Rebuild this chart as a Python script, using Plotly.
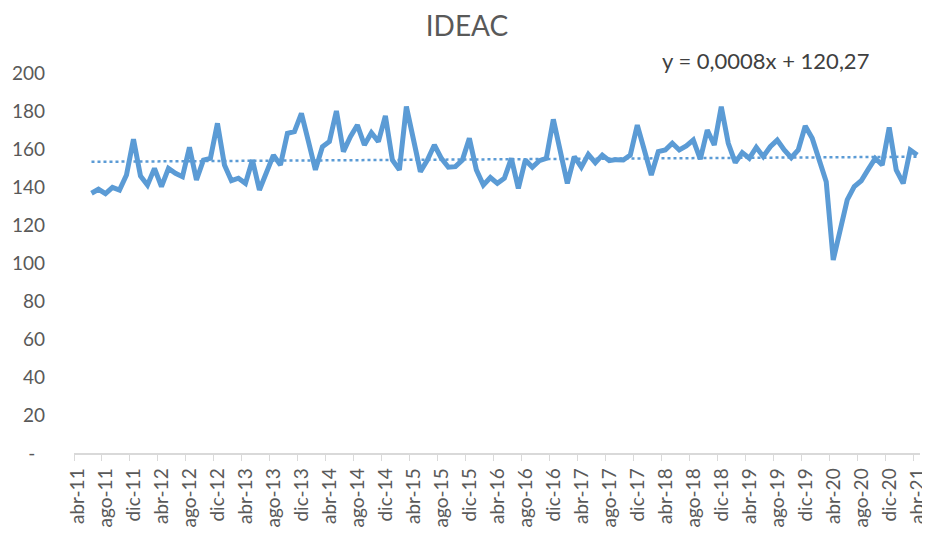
import numpy as np
import plotly.graph_objects as go

# Monthly IDEAC values, jun-11 .. abr-21
values = [
    136.7, 138.8, 136.5, 139.8, 138.4, 146.3, 165.1, 145.8, 141.0, 149.8,
    140.2, 149.8, 147.2, 145.4, 160.9, 143.7, 154.2, 155.1, 173.5, 151.6,
    143.3, 144.6, 141.9, 154.2, 138.4, 147.2, 156.8, 151.6, 168.2, 169.1,
    178.8, 164.0, 149.0, 161.2, 163.9, 180.0, 158.6, 166.5, 172.6, 162.1,
    168.6, 163.9, 177.4, 154.2, 149.0, 182.3, 164.7, 148.1, 154.2, 162.1,
    155.1, 150.4, 150.7, 154.2, 165.6, 149.0, 141.0, 145.0, 141.9, 144.6,
    155.1, 139.3, 154.2, 150.4, 153.9, 155.1, 175.6, 159.5, 141.9, 156.0,
    150.4, 157.2, 152.8, 156.8, 153.9, 154.4, 154.2, 156.8, 172.6, 159.5,
    146.3, 158.6, 159.5, 163.0, 159.5, 161.6, 164.7, 154.6, 170.0, 162.1,
    182.3, 163.0, 152.8, 158.1, 155.1, 160.9, 156.0, 161.2, 164.7, 159.5,
    155.4, 159.5, 172.1, 165.6, 154.2, 142.8, 101.6, 117.4, 133.2, 140.2,
    143.3, 149.3, 155.1, 151.6, 171.4, 149.0, 141.9, 159.5, 156.8,
]
first_month = 2  # months after abr-11 (jun-11)

tick_labels = [
    "abr-11", "ago-11", "dic-11", "abr-12", "ago-12", "dic-12", "abr-13", "ago-13",
    "dic-13", "abr-14", "ago-14", "dic-14", "abr-15", "ago-15", "dic-15", "abr-16",
    "ago-16", "dic-16", "abr-17", "ago-17", "dic-17", "abr-18", "ago-18", "dic-18",
    "abr-19", "ago-19", "dic-19", "abr-20", "ago-20", "dic-20", "abr-21",
]
y_ticks = [0, 20, 40, 60, 80, 100, 120, 140, 160, 180, 200]
y_ticktext = ["-\u00a0\u00a0"] + [str(v) for v in y_ticks[1:]]

title_text = "IDEAC"
equation_text = "y = 0,0008x + 120,27"

x = np.arange(first_month, first_month + len(values))
coef = np.polyfit(x, values, 1)
trend = np.polyval(coef, x)

BLUE = "#5B9BD5"
FONT = "Lato"

# page body has an 8px margin, so the figure is drawn 8px in from the window corner
W, H = 922, 530
PL, PT, PW, PH = 66, 65, 846, 380

fig = go.Figure()
fig.add_trace(go.Scatter(x=x, y=trend, mode="lines",
                         line=dict(color=BLUE, width=2.5, dash="dot"),
                         hoverinfo="skip", showlegend=False))
fig.add_trace(go.Scatter(x=x, y=values, mode="lines",
                         line=dict(color=BLUE, width=5),
                         showlegend=False))

fig.update_layout(
    width=W, height=H,
    margin=dict(l=PL, r=W - PL - PW, t=PT, b=H - PT - PH, autoexpand=False),
    paper_bgcolor="white", plot_bgcolor="white",
    font=dict(family=FONT, color="#595959"),
    title=dict(text=title_text, x=459 / W, xref="container", xanchor="center",
               y=1 - 18 / H, yref="container", yanchor="middle",
               font=dict(family=FONT, size=28, color="#595959")),
    xaxis=dict(
        range=[-0.5, 120.4],
        tickvals=[i * 4 - 0.5 for i in range(len(tick_labels))],
        ticktext=tick_labels,
        tickangle=-90,
        ticks="outside", ticklen=6, tickcolor="#D9D9D9", tickwidth=1,
        showline=True, linecolor="#D9D9D9", linewidth=1.5,
        showgrid=False, zeroline=False, automargin=False,
        tickfont=dict(family=FONT, size=19, color="#595959"),
        ticklabelshift=4,
    ),
    yaxis=dict(
        range=[0, 200],
        tickvals=y_ticks, ticktext=y_ticktext,
        showgrid=False, showline=False, zeroline=False, ticks="",
        automargin=False,
        tickfont=dict(family=FONT, size=19, color="#595959"),
        ticklabelstandoff=28,
    ),
    annotations=[dict(
        text=equation_text, xref="paper", yref="paper",
        x=(765 - 74) / PW, y=(453 - 61) / PH,
        xanchor="center", yanchor="middle", showarrow=False,
        font=dict(family=FONT, size=22, color="#404040"),
    )],
)

fig.write_html("out.html")
